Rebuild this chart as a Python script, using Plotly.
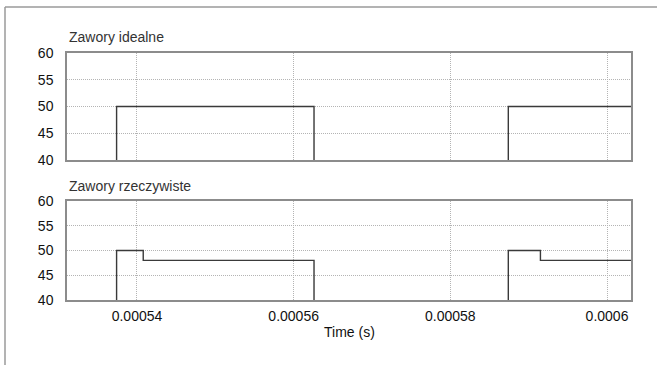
import plotly.graph_objects as go

# Data
t_ideal = [0.000531, 0.0005374, 0.0005626, 0.0005874, 0.000604]
v_ideal = [0, 50, 0, 50, 50]
t_real = [0.000531, 0.0005374, 0.0005408, 0.0005626, 0.0005874, 0.0005915, 0.000604]
v_real = [0, 50, 48, 0, 50, 48, 48]
x_ticks = [0.00054, 0.00056, 0.00058, 0.0006]
x_labels = ["0.00054", "0.00056", "0.00058", "0.0006"]
y_ticks = [40, 45, 50, 55, 60]
titles = ["Zawory idealne", "Zawory rzeczywiste"]
x_title = "Time (s)"

W, H = 657, 365
FONT = "Liberation Sans, Arial, sans-serif"
xd = [67 / W, 631 / W]
y1 = [1 - 160 / H, 1 - 53 / H]
y2 = [1 - 300 / H, 1 - 201 / H]
xr = [0.00053107, 0.00060306]

fig = go.Figure()
fig.add_trace(go.Scatter(x=t_ideal, y=v_ideal, mode="lines", line=dict(color="#3a3a3a", width=1.4, shape="hv"),
                         xaxis="x", yaxis="y", showlegend=False))
fig.add_trace(go.Scatter(x=t_real, y=v_real, mode="lines", line=dict(color="#3a3a3a", width=1.4, shape="hv"),
                         xaxis="x2", yaxis="y2", showlegend=False))

grid = dict(showgrid=True, gridcolor="#b4b4b4", griddash="1px,1px", gridwidth=1,
            showline=True, linecolor="#8c8c8c", linewidth=1.5, mirror=True, automargin=False,
            zeroline=False, ticks="", tickfont=dict(family=FONT, size=14, color="#111111"))

fig.update_layout(
    template="none",
    width=W, height=H, margin=dict(l=0, r=0, t=0, b=0, autoexpand=False),
    paper_bgcolor="white", plot_bgcolor="white",
    xaxis=dict(domain=xd, range=xr, anchor="y", tickvals=x_ticks, ticktext=x_labels, showticklabels=False, **grid),
    yaxis=dict(domain=y1, range=[40, 60], anchor="x", tickvals=y_ticks, ticklabelstandoff=9, **grid),
    xaxis2=dict(domain=xd, range=xr, anchor="y2", tickvals=x_ticks, ticktext=x_labels, ticklabelstandoff=2, **grid),
    yaxis2=dict(domain=y2, range=[40, 60], anchor="x2", tickvals=y_ticks, ticklabelstandoff=9, **grid),
    annotations=[
        dict(text=titles[0], x=xd[0], y=1 - 37 / H, xref="paper", yref="paper", xanchor="left", yanchor="middle",
             showarrow=False, font=dict(family=FONT, size=14, color="#333333")),
        dict(text=titles[1], x=xd[0], y=1 - 186 / H, xref="paper", yref="paper", xanchor="left", yanchor="middle",
             showarrow=False, font=dict(family=FONT, size=14, color="#333333")),
        dict(text=x_title, x=(xd[0] + xd[1]) / 2, y=1 - 332 / H, xref="paper", yref="paper", xanchor="center",
             yanchor="middle", showarrow=False, font=dict(family=FONT, size=14, color="#111111")),
    ],
    shapes=[
        dict(type="line", xref="paper", yref="paper", x0=5 / W, x1=1, y0=1 - 7 / H, y1=1 - 7 / H,
             line=dict(color="#9a9a9a", width=1.5)),
        dict(type="line", xref="paper", yref="paper", x0=5 / W, x1=5 / W, y0=0, y1=1 - 7 / H,
             line=dict(color="#9a9a9a", width=1.5)),
    ],
)

fig.write_html("out.html", config={"displayModeBar": False},
               post_script="document.body.style.margin='0';document.body.style.overflow='hidden';")
